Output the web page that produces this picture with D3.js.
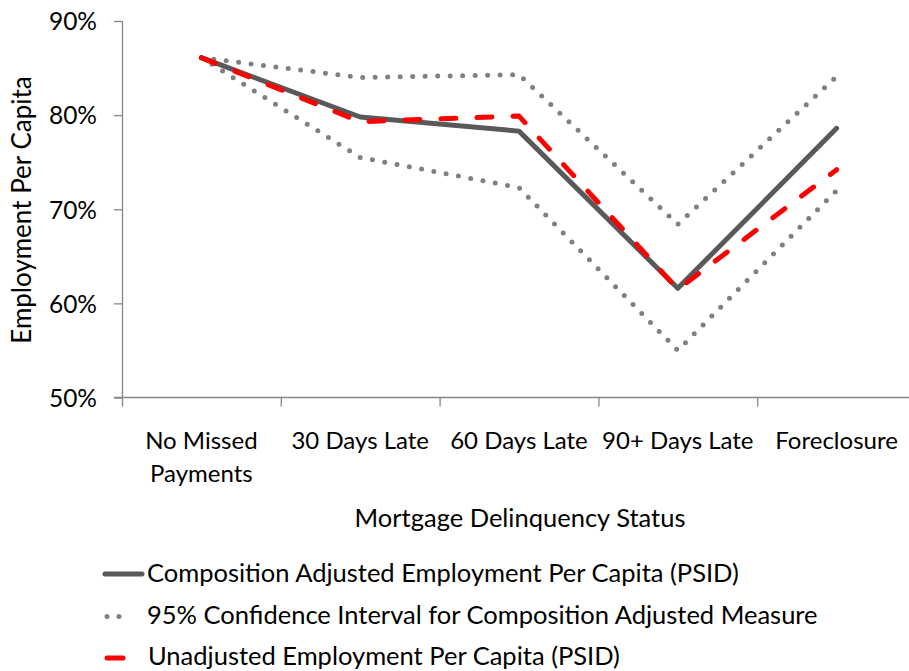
<!DOCTYPE html>
<html>
<head>
<meta charset="utf-8">
<script src="https://cdn.jsdelivr.net/npm/d3@7"></script>
<style>
  html, body { margin: 0; padding: 0; background: #fff; }
  svg { display: block; font-family: Lato, "Open Sans", sans-serif; }
  text { fill: #000; }
</style>
</head>
<body>
<svg id="chart" width="909" height="671"></svg>
<script>
// Delinquency status categories (x axis)
const categories = ["No Missed Payments", "30 Days Late", "60 Days Late", "90+ Days Late", "Foreclosure"];
const categoryLines = [["No Missed", "Payments"], ["30 Days Late"], ["60 Days Late"], ["90+ Days Late"], ["Foreclosure"]];

// Employment per capita by status
const adjusted   = [0.861, 0.798, 0.783, 0.616, 0.786];
const ciUpper    = [0.861, 0.840, 0.843, 0.684, 0.841];
const ciLower    = [0.861, 0.755, 0.723, 0.550, 0.720];
const unadjusted = [0.861, 0.793, 0.799, 0.615, 0.742];

const yTicks = [0.5, 0.6, 0.7, 0.8, 0.9];

const seriesNames = [
  "Composition Adjusted Employment Per Capita (PSID)",
  "95% Confidence Interval for Composition Adjusted Measure",
  "Unadjusted Employment Per Capita (PSID)"
];

const svg = d3.select("#chart");
const axisColor = "#868686";

const x = d3.scaleBand().domain(categories).range([122, 916]).padding(0);
const y = d3.scaleLinear().domain([0.5, 0.9]).range([397.5, 21]);
const cx = c => x(c) + x.bandwidth() / 2;

// Y axis
const yAxis = svg.append("g")
  .attr("transform", "translate(122,0)")
  .call(d3.axisLeft(y).tickValues(yTicks).tickFormat(d3.format(".0%")).tickSize(8).tickPadding(17));
yAxis.select(".domain").attr("stroke", axisColor).attr("stroke-width", 1.3)
  .attr("d", `M0.5,${y(0.9)}V${y(0.5) + 9}`);
yAxis.selectAll(".tick line").attr("stroke", axisColor).attr("stroke-width", 1.3);
yAxis.selectAll(".tick text").attr("font-size", 24.5).attr("fill", "#000")
  .attr("font-family", "Lato, sans-serif").attr("dy", "0.36em");

// X axis: baseline with ticks at category boundaries
const xAxis = svg.append("g");
xAxis.append("line")
  .attr("x1", 114).attr("x2", 916)
  .attr("y1", y(0.5)).attr("y2", y(0.5))
  .attr("stroke", axisColor).attr("stroke-width", 1.3);
const bounds = categories.map(c => x(c)).concat([x.range()[1]]).slice(1);
xAxis.selectAll("line.tick").data(bounds).join("line")
  .attr("class", "tick")
  .attr("x1", d => d + 0.5).attr("x2", d => d + 0.5)
  .attr("y1", y(0.5)).attr("y2", y(0.5) + 9)
  .attr("stroke", axisColor).attr("stroke-width", 1.3);
const xLabels = xAxis.selectAll("text.cat").data(categories).join("text")
  .attr("class", "cat")
  .attr("text-anchor", "middle")
  .attr("font-size", 24)
  .attr("x", d => cx(d))
  .attr("y", 449);
xLabels.each(function(d, i) {
  const t = d3.select(this);
  categoryLines[i].forEach((ln, j) => {
    t.append("tspan").attr("x", cx(d)).attr("dy", j === 0 ? 0 : 33).text(ln);
  });
});

// Axis titles
svg.append("text")
  .attr("x", 520).attr("y", 527)
  .attr("text-anchor", "middle").attr("font-size", 25.5)
  .text("Mortgage Delinquency Status");
svg.append("text")
  .attr("transform", "translate(31,210) rotate(-90)")
  .attr("text-anchor", "middle").attr("font-size", 26)
  .text("Employment Per Capita");

// Series lines
const line = d3.line().x((d, i) => cx(categories[i])).y(d => y(d));

const styles = {
  solid:  { stroke: "#595959", width: 5, dash: null },
  dotted: { stroke: "#808080", width: 5, dash: "0,12.5" },
  dashed: { stroke: "#ff0000", width: 5, dash: "15,21" }
};

function drawSeries(values, s) {
  svg.append("path")
    .datum(values)
    .attr("d", line)
    .attr("fill", "none")
    .attr("stroke", s.stroke)
    .attr("stroke-width", s.width)
    .attr("stroke-linecap", "round")
    .attr("stroke-linejoin", "round")
    .attr("stroke-dasharray", s.dash);
}

drawSeries(ciUpper, styles.dotted);
drawSeries(ciLower, styles.dotted);
drawSeries(adjusted, styles.solid);
drawSeries(unadjusted, styles.dashed);

// Legend
const legend = svg.append("g");
const legendRows = [
  { name: seriesNames[0], style: styles.solid,  x1: 105, x2: 142, y: 574, ty: 582, tx: 147 },
  { name: seriesNames[1], style: styles.dotted, x1: 107, x2: 131, y: 616.5, ty: 624, tx: 147 },
  { name: seriesNames[2], style: styles.dashed, x1: 107, x2: 123, y: 658, ty: 665, tx: 148 }
];
legendRows.forEach(r => {
  legend.append("line")
    .attr("x1", r.x1).attr("x2", r.x2).attr("y1", r.y).attr("y2", r.y)
    .attr("stroke", r.style.stroke).attr("stroke-width", r.style.width)
    .attr("stroke-linecap", "round")
    .attr("stroke-dasharray", r.style.dash === "0,12.5" ? "0,12" : null);
  legend.append("text")
    .attr("x", r.tx).attr("y", r.ty).attr("font-size", 25.5)
    .text(r.name);
});
</script>
</body>
</html>
